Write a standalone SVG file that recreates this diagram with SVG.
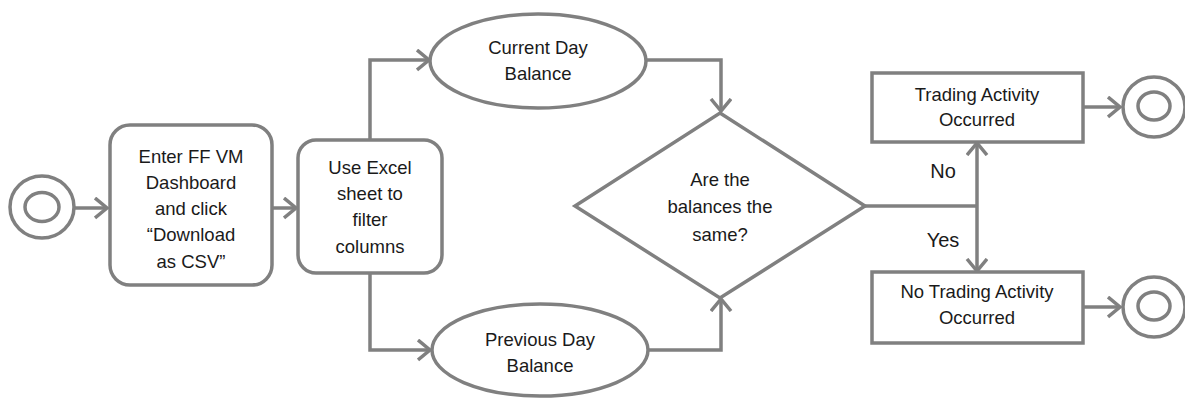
<svg xmlns="http://www.w3.org/2000/svg" width="1185" height="399" viewBox="0 0 1185 399">
<style>
.s{fill:#fff;stroke:#808080;stroke-width:3.5}
.c{fill:none;stroke:#808080;stroke-width:3.5}
.t{font-family:"Liberation Sans",Arial,sans-serif;font-size:18.5px;fill:#1a1a1a;text-anchor:middle}
.l{font-size:20px}
</style>
<defs>
<marker id="a" markerUnits="userSpaceOnUse" markerWidth="16" markerHeight="24" refX="13" refY="11" orient="auto" viewBox="0 0 16 24">
<path d="M1,1 L13,11 L1,21" fill="none" stroke="#808080" stroke-width="3.5" stroke-linejoin="miter"/>
</marker>
</defs>
<rect width="1185" height="399" fill="#fff"/>
<g id="connectors">
<path class="c" d="M74,208 H107" marker-end="url(#a)"/>
<path class="c" d="M272,208 H296" marker-end="url(#a)"/>
<path class="c" d="M370,140 V60 H429" marker-end="url(#a)"/>
<path class="c" d="M647,60 H721 V111" marker-end="url(#a)"/>
<path class="c" d="M370,273 V350 H430" marker-end="url(#a)"/>
<path class="c" d="M648,350 H721 V299" marker-end="url(#a)"/>
<path class="c" d="M865,206 H977"/>
<path class="c" d="M977,206 V143" marker-end="url(#a)"/>
<path class="c" d="M977,206 V271" marker-end="url(#a)"/>
<path class="c" d="M1083,107 H1120" marker-end="url(#a)"/>
<path class="c" d="M1083,307 H1120" marker-end="url(#a)"/>
<text class="t l" x="943" y="178">No</text>
<text class="t l" x="943" y="247">Yes</text>
</g>
<g id="start">
<ellipse class="s" cx="42" cy="207" rx="32" ry="31"/>
<ellipse class="s" cx="42" cy="207" rx="17" ry="14.5"/>
</g>
<g id="download">
<rect class="s" x="110" y="125" width="162" height="160" rx="20"/>
<text class="t" x="191" y="163">Enter FF VM</text>
<text class="t" x="191" y="189">Dashboard</text>
<text class="t" x="191" y="215">and click</text>
<text class="t" x="191" y="241">“Download</text>
<text class="t" x="191" y="268">as CSV”</text>
</g>
<g id="excel">
<rect class="s" x="298" y="140" width="144" height="133" rx="18"/>
<text class="t" x="370" y="174">Use Excel</text>
<text class="t" x="370" y="200">sheet to</text>
<text class="t" x="370" y="226">filter</text>
<text class="t" x="370" y="253">columns</text>
</g>
<g id="current">
<ellipse class="s" cx="538" cy="61" rx="108" ry="47"/>
<text class="t" x="538" y="54">Current Day</text>
<text class="t" x="538" y="80">Balance</text>
</g>
<g id="previous">
<ellipse class="s" cx="540" cy="350" rx="108" ry="46"/>
<text class="t" x="540" y="346">Previous Day</text>
<text class="t" x="540" y="372">Balance</text>
</g>
<g id="decision">
<polygon class="s" points="720,113 865,206 720,298 575,206"/>
<text class="t" x="720" y="186">Are the</text>
<text class="t" x="720" y="213">balances the</text>
<text class="t" x="720" y="241">same?</text>
</g>
<g id="trading">
<rect class="s" x="872" y="73" width="211" height="69"/>
<text class="t" x="977" y="101">Trading Activity</text>
<text class="t" x="977" y="126">Occurred</text>
</g>
<g id="notrading">
<rect class="s" x="872" y="272" width="211" height="71"/>
<text class="t" x="977" y="298">No Trading Activity</text>
<text class="t" x="977" y="324">Occurred</text>
</g>
<g id="end1">
<ellipse class="s" cx="1154" cy="107" rx="31" ry="30"/>
<ellipse class="s" cx="1154" cy="106" rx="16" ry="14"/>
</g>
<g id="end2">
<ellipse class="s" cx="1154" cy="307" rx="31" ry="30"/>
<ellipse class="s" cx="1154" cy="306" rx="16" ry="14"/>
</g>
</svg>
